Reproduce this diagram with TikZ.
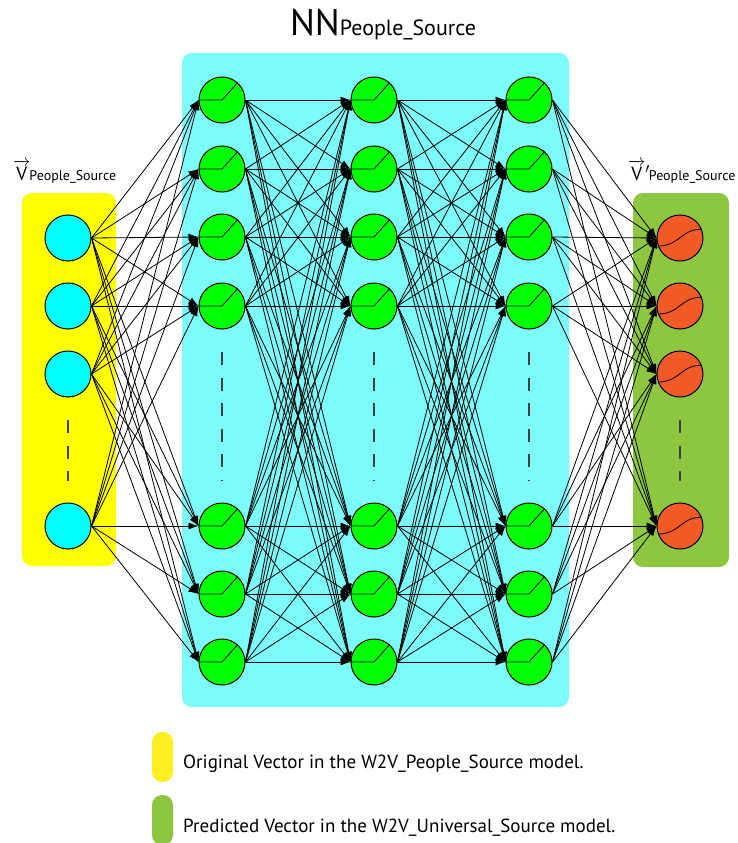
\documentclass[tikz,border=0pt]{standalone}
\usepackage{amsmath}
\usepackage{fontspec}
\setmainfont{PT Sans}
\usetikzlibrary{arrows.meta,calc}
\definecolor{inyellow}{HTML}{FFFF00}
\definecolor{keyyellow}{HTML}{FCEE21}
\definecolor{nncyan}{HTML}{7DFBFB}
\definecolor{outgreen}{HTML}{8DC63F}
\definecolor{relugreen}{HTML}{00FF00}
\definecolor{sigorange}{HTML}{F15A24}
\definecolor{incyan}{HTML}{00FFFF}

\begin{document}
\begin{tikzpicture}[x=1pt,y=-1pt,
        neuron/.style={circle,draw=black,line width=1pt,minimum size=46pt,inner sep=0pt},
        conn/.style={line width=0.8pt,-{Latex[length=10pt,width=7pt]}},
        gap/.style={draw=black!75,line width=1.5pt,dash pattern=on 13pt off 12.5pt},
        panel/.style={rounded corners=10pt},
        pill/.style={rectangle,rounded corners=10pt,minimum width=21pt,minimum height=50pt,inner sep=0pt}]
        \useasboundingbox (0,0) rectangle (737,843);
        % panels
        \fill[panel,inyellow] (22,193) rectangle (116,566);
        \fill[panel,nncyan] (182,53) rectangle (569,707);
        \fill[panel,outgreen] (633,193) rectangle (729,567);
        % input and output layers
        \foreach \y [count=\i] in {238,306,374,526} {%
            \node[neuron,fill=incyan] (in\i) at (68,\y) {};
            \node[neuron,fill=sigorange] (out\i) at (680,\y) {};
            \draw[line width=0.8pt] (out\i.200) .. controls ($(out\i.center)+(0,8)$) and ($(out\i.center)+(0,-8.6)$) .. (out\i.22);
        }
        % hidden layers
        \foreach \x [count=\l] in {222,374,529} {%
            \foreach \y [count=\i] in {100,169,237,306,526,594,662} {%
                \node[neuron,fill=relugreen] (h\l-\i) at (\x,\y) {};
                \draw[line width=0.8pt] (h\l-\i.west) -- (h\l-\i.center) -- (h\l-\i.48);
            }
            \draw[gap] (\x,352) -- (\x,481);
        }
        \draw[gap] (68,420) -- (68,481);
        \draw[gap] (680,420) -- (680,481);
        % connections
        \foreach \i in {1,...,4} {%
            \foreach \j in {1,...,7} {%
                \draw[conn] (in\i.east) -- (h1-\j.west);
                \draw[conn] (h3-\j.east) -- (out\i.west);
            }
        }
        \foreach \j in {1,...,7} {%
            \foreach \k in {1,...,7} {%
                \draw[conn] (h1-\j.east) -- (h2-\k.west);
                \draw[conn] (h2-\j.east) -- (h3-\k.west);
            }
        }
        % labels
        \node[anchor=base,inner sep=0pt] (title) at (383,36) {{\fontsize{37}{37}\selectfont NN}{\fontsize{22}{22}\selectfont People\_Source}};
        \node[anchor=base west,inner sep=0pt] (inlabel) at (13,180) {\fontsize{19}{19}\selectfont$\overrightarrow{\text{V}}$\kern-1pt\fontsize{14}{14}\selectfont People\_Source};
        \node[anchor=base west,inner sep=0pt] (outlabel) at (628,180) {\fontsize{19}{19}\selectfont$\overrightarrow{\text{V}}{}'$\kern-1pt\fontsize{14}{14}\selectfont People\_Source};
        % legend
        \node[pill,fill=keyyellow] (keyin) at (162.5,757) {};
        \node[pill,fill=outgreen] (keyout) at (162.5,820) {};
        \node[anchor=base west,inner sep=0pt] (keyintext) at (183,768) {\fontsize{19}{19}\selectfont Original Vector in the W2V\_People\_Source model.};
        \node[anchor=base west,inner sep=0pt] (keyouttext) at (183,832) {\fontsize{19}{19}\selectfont Predicted Vector in the W2V\_Universal\_Source model.};
\end{tikzpicture}
\end{document}
